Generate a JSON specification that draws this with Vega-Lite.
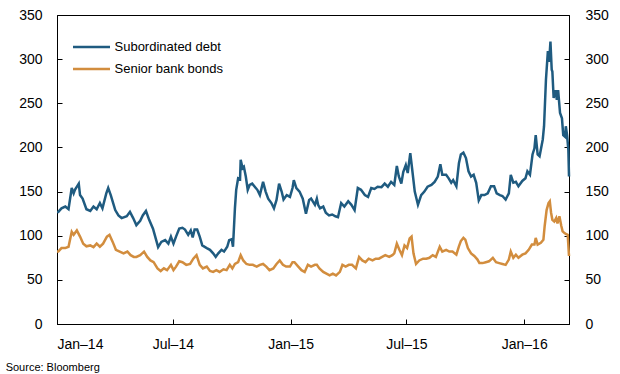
{
"$schema": "https://vega.github.io/schema/vega-lite/v6.json",
"width": 512, "height": 309,
"autosize": {"type": "none"},
"padding": {"left": 57, "top": 15, "right": 51, "bottom": 50},
"config": {
  "font": "Liberation Sans",
  "view": {"stroke": "#000", "strokeWidth": 1},
  "axis": {"grid": false, "domainColor": "#000", "tickColor": "#000", "labelColor": "#000", "labelFontSize": 14, "labelFont": "Liberation Sans", "title": null},
  "legend": {"orient": "none", "legendX": 28, "legendY": 25.5, "title": null, "symbolType": "M-18.5,0H18.5", "symbolSize": 4, "symbolStrokeWidth": 2.5, "labelFontSize": 13, "labelFont": "Liberation Sans", "labelColor": "#000", "labelOffset": 16.5, "rowPadding": 8, "padding": 0}
},
"title": {"text": "Source: Bloomberg", "orient": "bottom", "anchor": "start", "fontSize": 11, "fontWeight": "normal", "font": "Liberation Sans", "color": "#000", "dx": -13, "offset": 11},
"datasets": {
"sub": [
{"date":"2014-01-01","value":127},{"date":"2014-01-03","value":127},{"date":"2014-01-08","value":131},{"date":"2014-01-14","value":133},{"date":"2014-01-19","value":130},{"date":"2014-01-24","value":154},{"date":"2014-01-27","value":148},{"date":"2014-01-29","value":152},{"date":"2014-02-04","value":159},{"date":"2014-02-06","value":146},{"date":"2014-02-10","value":142},{"date":"2014-02-16","value":130},{"date":"2014-02-22","value":128},{"date":"2014-02-27","value":133},{"date":"2014-03-04","value":130},{"date":"2014-03-09","value":137},{"date":"2014-03-13","value":131},{"date":"2014-03-19","value":148},{"date":"2014-03-22","value":154},{"date":"2014-03-26","value":146},{"date":"2014-04-02","value":129},{"date":"2014-04-07","value":123},{"date":"2014-04-12","value":120},{"date":"2014-04-20","value":122},{"date":"2014-04-25","value":127},{"date":"2014-04-30","value":120},{"date":"2014-05-05","value":112},{"date":"2014-05-11","value":117},{"date":"2014-05-15","value":123},{"date":"2014-05-20","value":128},{"date":"2014-05-25","value":118},{"date":"2014-05-31","value":108},{"date":"2014-06-05","value":95},{"date":"2014-06-08","value":87},{"date":"2014-06-13","value":93},{"date":"2014-06-19","value":95},{"date":"2014-06-24","value":91},{"date":"2014-06-28","value":99},{"date":"2014-07-02","value":91},{"date":"2014-07-06","value":99},{"date":"2014-07-11","value":108},{"date":"2014-07-16","value":109},{"date":"2014-07-20","value":107},{"date":"2014-07-25","value":101},{"date":"2014-07-29","value":106},{"date":"2014-08-01","value":98},{"date":"2014-08-04","value":107},{"date":"2014-08-08","value":107},{"date":"2014-08-12","value":99},{"date":"2014-08-16","value":89},{"date":"2014-08-23","value":86},{"date":"2014-08-28","value":84},{"date":"2014-09-02","value":80},{"date":"2014-09-06","value":76},{"date":"2014-09-10","value":80},{"date":"2014-09-15","value":84},{"date":"2014-09-19","value":82},{"date":"2014-09-24","value":87.5},{"date":"2014-09-27","value":95},{"date":"2014-10-01","value":96},{"date":"2014-10-03","value":87.5},{"date":"2014-10-06","value":131},{"date":"2014-10-08","value":152},{"date":"2014-10-11","value":165},{"date":"2014-10-14","value":164},{"date":"2014-10-15","value":186},{"date":"2014-10-18","value":176.5},{"date":"2014-10-20","value":178},{"date":"2014-10-23","value":167},{"date":"2014-10-26","value":152},{"date":"2014-10-29","value":157.5},{"date":"2014-11-02","value":159},{"date":"2014-11-06","value":155.5},{"date":"2014-11-10","value":152},{"date":"2014-11-14","value":146},{"date":"2014-11-19","value":161},{"date":"2014-11-23","value":150},{"date":"2014-11-27","value":142},{"date":"2014-12-02","value":137},{"date":"2014-12-06","value":131},{"date":"2014-12-10","value":140.5},{"date":"2014-12-14","value":159},{"date":"2014-12-18","value":150},{"date":"2014-12-21","value":141},{"date":"2014-12-26","value":146},{"date":"2014-12-31","value":144},{"date":"2015-01-04","value":154},{"date":"2015-01-06","value":163},{"date":"2015-01-10","value":154},{"date":"2015-01-15","value":150},{"date":"2015-01-20","value":142},{"date":"2015-01-25","value":125},{"date":"2015-01-30","value":140.5},{"date":"2015-02-02","value":142},{"date":"2015-02-08","value":135},{"date":"2015-02-11","value":142},{"date":"2015-02-13","value":135},{"date":"2015-02-16","value":131},{"date":"2015-02-21","value":133},{"date":"2015-02-25","value":126},{"date":"2015-03-02","value":123},{"date":"2015-03-07","value":124},{"date":"2015-03-12","value":122},{"date":"2015-03-16","value":121},{"date":"2015-03-21","value":137},{"date":"2015-03-26","value":133},{"date":"2015-04-01","value":139},{"date":"2015-04-06","value":135},{"date":"2015-04-11","value":129},{"date":"2015-04-16","value":154},{"date":"2015-04-21","value":152},{"date":"2015-04-27","value":146},{"date":"2015-05-02","value":144},{"date":"2015-05-07","value":154},{"date":"2015-05-12","value":153},{"date":"2015-05-17","value":155.5},{"date":"2015-05-23","value":155},{"date":"2015-05-28","value":159},{"date":"2015-06-02","value":155.5},{"date":"2015-06-07","value":161},{"date":"2015-06-12","value":157.5},{"date":"2015-06-16","value":179},{"date":"2015-06-19","value":167.5},{"date":"2015-06-23","value":159},{"date":"2015-06-26","value":172},{"date":"2015-06-30","value":180},{"date":"2015-07-03","value":171},{"date":"2015-07-07","value":193.5},{"date":"2015-07-10","value":175},{"date":"2015-07-14","value":150},{"date":"2015-07-19","value":135},{"date":"2015-07-24","value":146},{"date":"2015-07-29","value":150},{"date":"2015-08-03","value":155.5},{"date":"2015-08-09","value":157.5},{"date":"2015-08-14","value":161},{"date":"2015-08-19","value":167},{"date":"2015-08-23","value":181},{"date":"2015-08-26","value":169},{"date":"2015-09-01","value":169},{"date":"2015-09-05","value":165},{"date":"2015-09-09","value":160},{"date":"2015-09-12","value":163},{"date":"2015-09-17","value":156},{"date":"2015-09-21","value":182},{"date":"2015-09-24","value":192},{"date":"2015-09-28","value":194},{"date":"2015-10-02","value":188},{"date":"2015-10-06","value":173},{"date":"2015-10-10","value":167},{"date":"2015-10-14","value":169},{"date":"2015-10-18","value":160},{"date":"2015-10-22","value":140},{"date":"2015-10-26","value":146},{"date":"2015-10-31","value":146},{"date":"2015-11-05","value":148},{"date":"2015-11-10","value":156},{"date":"2015-11-15","value":156},{"date":"2015-11-19","value":148},{"date":"2015-11-24","value":146},{"date":"2015-11-28","value":145},{"date":"2015-12-03","value":141},{"date":"2015-12-08","value":148},{"date":"2015-12-11","value":169},{"date":"2015-12-15","value":160},{"date":"2015-12-19","value":161},{"date":"2015-12-23","value":156},{"date":"2015-12-29","value":162},{"date":"2016-01-03","value":165},{"date":"2016-01-06","value":173},{"date":"2016-01-10","value":169},{"date":"2016-01-14","value":192},{"date":"2016-01-17","value":199},{"date":"2016-01-19","value":214},{"date":"2016-01-22","value":192},{"date":"2016-01-25","value":190},{"date":"2016-01-30","value":209},{"date":"2016-02-01","value":224},{"date":"2016-02-04","value":277},{"date":"2016-02-07","value":309},{"date":"2016-02-09","value":297},{"date":"2016-02-11","value":320},{"date":"2016-02-13","value":288},{"date":"2016-02-14","value":286},{"date":"2016-02-16","value":256},{"date":"2016-02-19","value":265},{"date":"2016-02-21","value":254},{"date":"2016-02-23","value":265},{"date":"2016-02-26","value":239},{"date":"2016-02-29","value":233},{"date":"2016-03-02","value":214},{"date":"2016-03-05","value":212},{"date":"2016-03-06","value":224},{"date":"2016-03-08","value":214},{"date":"2016-03-10","value":197},{"date":"2016-03-11","value":167}
],
"sen": [
{"date":"2014-01-01","value":82},{"date":"2014-01-03","value":82},{"date":"2014-01-08","value":86},{"date":"2014-01-14","value":86},{"date":"2014-01-19","value":87.5},{"date":"2014-01-24","value":104.5},{"date":"2014-01-27","value":101},{"date":"2014-02-01","value":106},{"date":"2014-02-06","value":99},{"date":"2014-02-11","value":91},{"date":"2014-02-16","value":88},{"date":"2014-02-22","value":89},{"date":"2014-02-27","value":87},{"date":"2014-03-04","value":91},{"date":"2014-03-09","value":87.5},{"date":"2014-03-14","value":91},{"date":"2014-03-20","value":99},{"date":"2014-03-24","value":101},{"date":"2014-03-29","value":93},{"date":"2014-04-03","value":84},{"date":"2014-04-09","value":82},{"date":"2014-04-15","value":80},{"date":"2014-04-21","value":82},{"date":"2014-04-26","value":78},{"date":"2014-05-01","value":76},{"date":"2014-05-05","value":76},{"date":"2014-05-11","value":78},{"date":"2014-05-17","value":82},{"date":"2014-05-22","value":76},{"date":"2014-05-27","value":72},{"date":"2014-06-01","value":70},{"date":"2014-06-07","value":63},{"date":"2014-06-12","value":60},{"date":"2014-06-17","value":63},{"date":"2014-06-22","value":61},{"date":"2014-06-28","value":67},{"date":"2014-07-02","value":61},{"date":"2014-07-06","value":65},{"date":"2014-07-11","value":71},{"date":"2014-07-16","value":70},{"date":"2014-07-22","value":67},{"date":"2014-07-28","value":68},{"date":"2014-08-02","value":74},{"date":"2014-08-07","value":78},{"date":"2014-08-12","value":67},{"date":"2014-08-17","value":63},{"date":"2014-08-23","value":65},{"date":"2014-08-28","value":60},{"date":"2014-09-02","value":59},{"date":"2014-09-07","value":61},{"date":"2014-09-12","value":59},{"date":"2014-09-18","value":62},{"date":"2014-09-23","value":61},{"date":"2014-09-28","value":67},{"date":"2014-10-02","value":63},{"date":"2014-10-06","value":68},{"date":"2014-10-11","value":70},{"date":"2014-10-15","value":78},{"date":"2014-10-19","value":72},{"date":"2014-10-24","value":68},{"date":"2014-10-29","value":67},{"date":"2014-11-03","value":67},{"date":"2014-11-09","value":65},{"date":"2014-11-14","value":67},{"date":"2014-11-19","value":68},{"date":"2014-11-24","value":65},{"date":"2014-11-29","value":61},{"date":"2014-12-05","value":63},{"date":"2014-12-10","value":68},{"date":"2014-12-15","value":72},{"date":"2014-12-20","value":67},{"date":"2014-12-25","value":65},{"date":"2014-12-31","value":65},{"date":"2015-01-04","value":70},{"date":"2015-01-07","value":70},{"date":"2015-01-13","value":65},{"date":"2015-01-18","value":61},{"date":"2015-01-23","value":59},{"date":"2015-01-28","value":67},{"date":"2015-02-02","value":65},{"date":"2015-02-08","value":67},{"date":"2015-02-11","value":67},{"date":"2015-02-15","value":63},{"date":"2015-02-21","value":59},{"date":"2015-02-26","value":57},{"date":"2015-03-03","value":55},{"date":"2015-03-08","value":57},{"date":"2015-03-13","value":55},{"date":"2015-03-19","value":59},{"date":"2015-03-23","value":67},{"date":"2015-03-28","value":65},{"date":"2015-04-02","value":67},{"date":"2015-04-07","value":67},{"date":"2015-04-13","value":63},{"date":"2015-04-18","value":76},{"date":"2015-04-23","value":72},{"date":"2015-04-28","value":70},{"date":"2015-05-03","value":74},{"date":"2015-05-09","value":72},{"date":"2015-05-14","value":74},{"date":"2015-05-19","value":74},{"date":"2015-05-24","value":76},{"date":"2015-05-29","value":78},{"date":"2015-06-04","value":76},{"date":"2015-06-09","value":78},{"date":"2015-06-12","value":80},{"date":"2015-06-16","value":91},{"date":"2015-06-20","value":84},{"date":"2015-06-24","value":78},{"date":"2015-06-28","value":89},{"date":"2015-07-02","value":86},{"date":"2015-07-06","value":97},{"date":"2015-07-09","value":99},{"date":"2015-07-12","value":80},{"date":"2015-07-16","value":68},{"date":"2015-07-21","value":72},{"date":"2015-07-27","value":74},{"date":"2015-08-01","value":74},{"date":"2015-08-06","value":75},{"date":"2015-08-11","value":78},{"date":"2015-08-16","value":76},{"date":"2015-08-22","value":87.5},{"date":"2015-08-26","value":82},{"date":"2015-09-01","value":84},{"date":"2015-09-06","value":82},{"date":"2015-09-11","value":82},{"date":"2015-09-17","value":78.5},{"date":"2015-09-21","value":88},{"date":"2015-09-24","value":94},{"date":"2015-09-28","value":97.5},{"date":"2015-10-01","value":95.5},{"date":"2015-10-05","value":86},{"date":"2015-10-10","value":80},{"date":"2015-10-15","value":77},{"date":"2015-10-20","value":73},{"date":"2015-10-23","value":69},{"date":"2015-10-28","value":69},{"date":"2015-11-02","value":70},{"date":"2015-11-07","value":71},{"date":"2015-11-13","value":75},{"date":"2015-11-18","value":70},{"date":"2015-11-23","value":69},{"date":"2015-11-28","value":68},{"date":"2015-12-03","value":67},{"date":"2015-12-08","value":73},{"date":"2015-12-11","value":82},{"date":"2015-12-15","value":75},{"date":"2015-12-19","value":78.5},{"date":"2015-12-23","value":75},{"date":"2015-12-29","value":78.5},{"date":"2016-01-03","value":80},{"date":"2016-01-08","value":84},{"date":"2016-01-13","value":90},{"date":"2016-01-17","value":90},{"date":"2016-01-19","value":97.5},{"date":"2016-01-22","value":90},{"date":"2016-01-27","value":92},{"date":"2016-01-31","value":95.5},{"date":"2016-02-02","value":111},{"date":"2016-02-05","value":129},{"date":"2016-02-08","value":137},{"date":"2016-02-10","value":139},{"date":"2016-02-12","value":126},{"date":"2016-02-14","value":118},{"date":"2016-02-17","value":116},{"date":"2016-02-20","value":120},{"date":"2016-02-22","value":114},{"date":"2016-02-25","value":122},{"date":"2016-02-28","value":111},{"date":"2016-03-01","value":105},{"date":"2016-03-04","value":103},{"date":"2016-03-06","value":102},{"date":"2016-03-09","value":101},{"date":"2016-03-11","value":77}
]
},
"layer": [
  {
    "data": {"name": "sub"},
    "mark": {"type": "line", "strokeWidth": 2.5},
    "encoding": {
      "x": {"field": "date", "type": "temporal", "scale": {"domain": ["2014-01-01", "2016-03-11"]},
            "axis": {"values": [{"year":2014,"month":1,"date":1},{"year":2014,"month":7,"date":1},{"year":2015,"month":1,"date":1},{"year":2015,"month":7,"date":1},{"year":2016,"month":1,"date":1}], "format": "%b\u2013%y", "tickSize": -5, "labelPadding": 18}},
      "y": {"field": "value", "type": "quantitative", "scale": {"domain": [0, 350], "nice": false},
            "axis": {"orient": "left", "values": [0,50,100,150,200,250,300,350], "tickSize": -5, "labelPadding": 20}},
      "color": {"datum": "Subordinated debt", "type": "nominal", "scale": {"domain": ["Subordinated debt", "Senior bank bonds"], "range": ["#1f5b80", "#d28d3e"]}}
    }
  },
  {
    "data": {"name": "sen"},
    "mark": {"type": "line", "strokeWidth": 2.5},
    "encoding": {
      "x": {"field": "date", "type": "temporal"},
      "y": {"field": "value", "type": "quantitative", "scale": {"domain": [0, 350], "nice": false},
            "axis": {"orient": "right", "values": [0,50,100,150,200,250,300,350], "tickSize": -5, "labelPadding": 21}},
      "color": {"datum": "Senior bank bonds", "type": "nominal"}
    }
  }
],
"resolve": {"scale": {"y": "independent"}}
}
